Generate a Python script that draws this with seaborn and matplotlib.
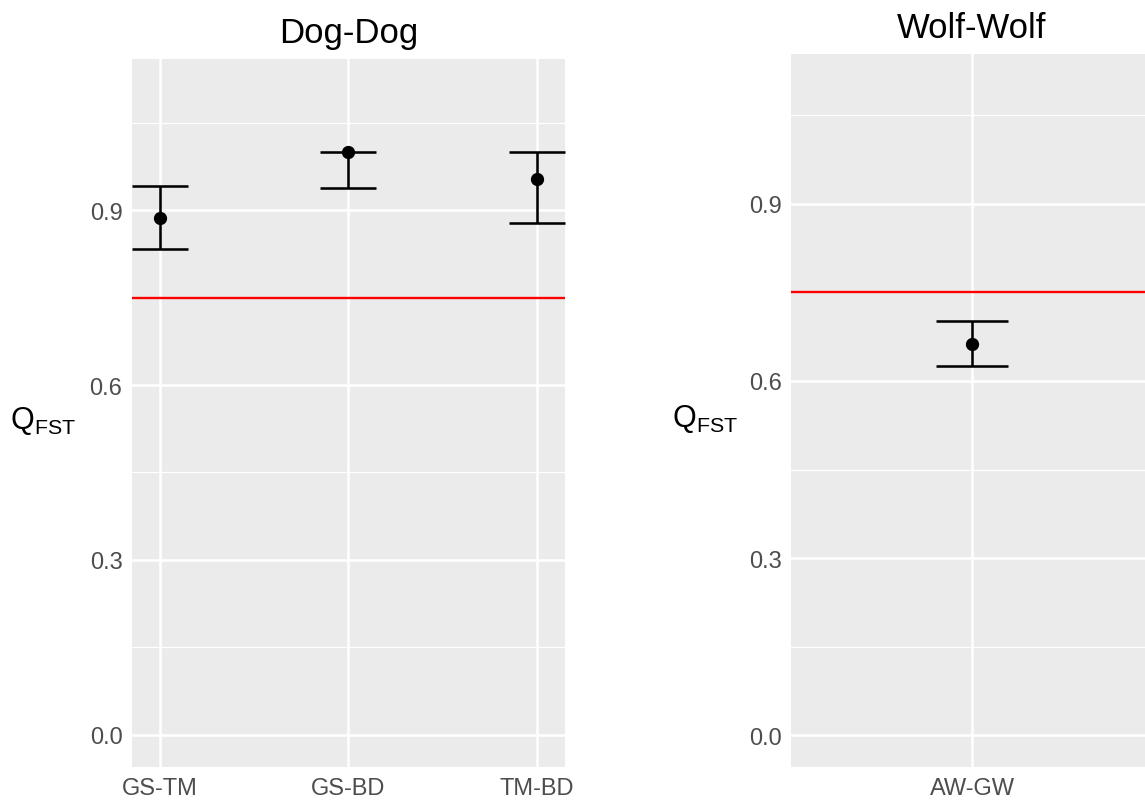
import numpy as np
import pandas as pd
import matplotlib
matplotlib.use("Agg")
import matplotlib.pyplot as plt
import seaborn as sns

# ---- data ----
dog_pairs = ["GS-TM", "GS-BD", "TM-BD"]
dog_qst = [0.887, 1.000, 0.953]
dog_lo = [0.834, 0.937, 0.878]
dog_hi = [0.942, 1.000, 1.000]

wolf_pairs = ["AW-GW"]
wolf_qst = [0.663]
wolf_lo = [0.626]
wolf_hi = [0.702]

fst_line = 0.75
yticks = [0.0, 0.3, 0.6, 0.9]
yminor = [0.15, 0.45, 0.75, 1.05]

sns.set_style("white")
plt.rcParams["font.family"] = ["Liberation Sans", "DejaVu Sans"]
plt.rcParams["mathtext.fontset"] = "custom"
plt.rcParams["mathtext.rm"] = "Liberation Sans"
plt.rcParams["mathtext.default"] = "regular"

W, H = 1145, 804
fig = plt.figure(figsize=(W / 100, H / 100), dpi=100)

def px_axes(x0, y0, x1, y1):
    return fig.add_axes([x0 / W, (H - y1) / H, (x1 - x0) / W, (y1 - y0) / H])

ax1 = px_axes(131.5, 60, 565.3, 768)
ax2 = px_axes(791, 55, 1153, 768)

def draw(ax, pairs, q, lo, hi, title, xlim, ylim, capsize, labx):
    df = pd.DataFrame({"pair": pairs, "qst": q})
    ax.set_facecolor("#EBEBEB")
    for y in yminor:
        ax.axhline(y, color="white", lw=0.9, zorder=0.5)
    for y in yticks:
        ax.axhline(y, color="white", lw=1.8, zorder=0.6)
    for i in range(len(pairs)):
        ax.axvline(i, color="white", lw=1.8, zorder=0.6)
    ax.axhline(fst_line, color="#FF0000", lw=1.7, zorder=2)
    pos = np.arange(len(pairs))
    qa, la, ha = np.array(q), np.array(lo), np.array(hi)
    ax.errorbar(pos, qa, yerr=[qa - la, ha - qa], fmt="none", ecolor="black",
                elinewidth=1.85, capsize=capsize, capthick=1.85, zorder=3)
    sns.pointplot(data=df, x="pair", y="qst", ax=ax, color="black",
                  linestyle="none", markers="o", errorbar=None,
                  markersize=7.5, zorder=4)
    ax.set_xlim(*xlim)
    ax.set_ylim(*ylim)
    ax.set_yticks(yticks)
    ax.set_yticklabels([f"{v:.1f}" for v in yticks])
    ax.set_xticks(pos)
    ax.set_xticklabels(pairs)
    ax.tick_params(axis="both", labelsize=17, labelcolor="#4D4D4D",
                   color="#333333", length=3.5, width=1.4, pad=3)
    ax.tick_params(axis="x", pad=4)
    for s in ax.spines.values():
        s.set_visible(False)
    ax.grid(False)
    ax.set_xlabel("")
    ax.set_ylabel(r"Q$_{FST}$", fontsize=22, rotation=0, ha="left", va="center",
                  color="black")
    ax.yaxis.set_label_coords(labx, 0.49)
    ax.set_title(title, fontsize=25, pad=12, color="black")

draw(ax1, dog_pairs, dog_qst, dog_lo, dog_hi, "Dog-Dog",
     (-0.15, 2.15), (-0.055, 1.159), 20.2, -0.279)
draw(ax2, wolf_pairs, wolf_qst, wolf_lo, wolf_hi, "Wolf-Wolf",
     (-0.75, 0.75), (-0.054, 1.154), 26, -0.329)

fig.savefig("out.png", dpi=100)
